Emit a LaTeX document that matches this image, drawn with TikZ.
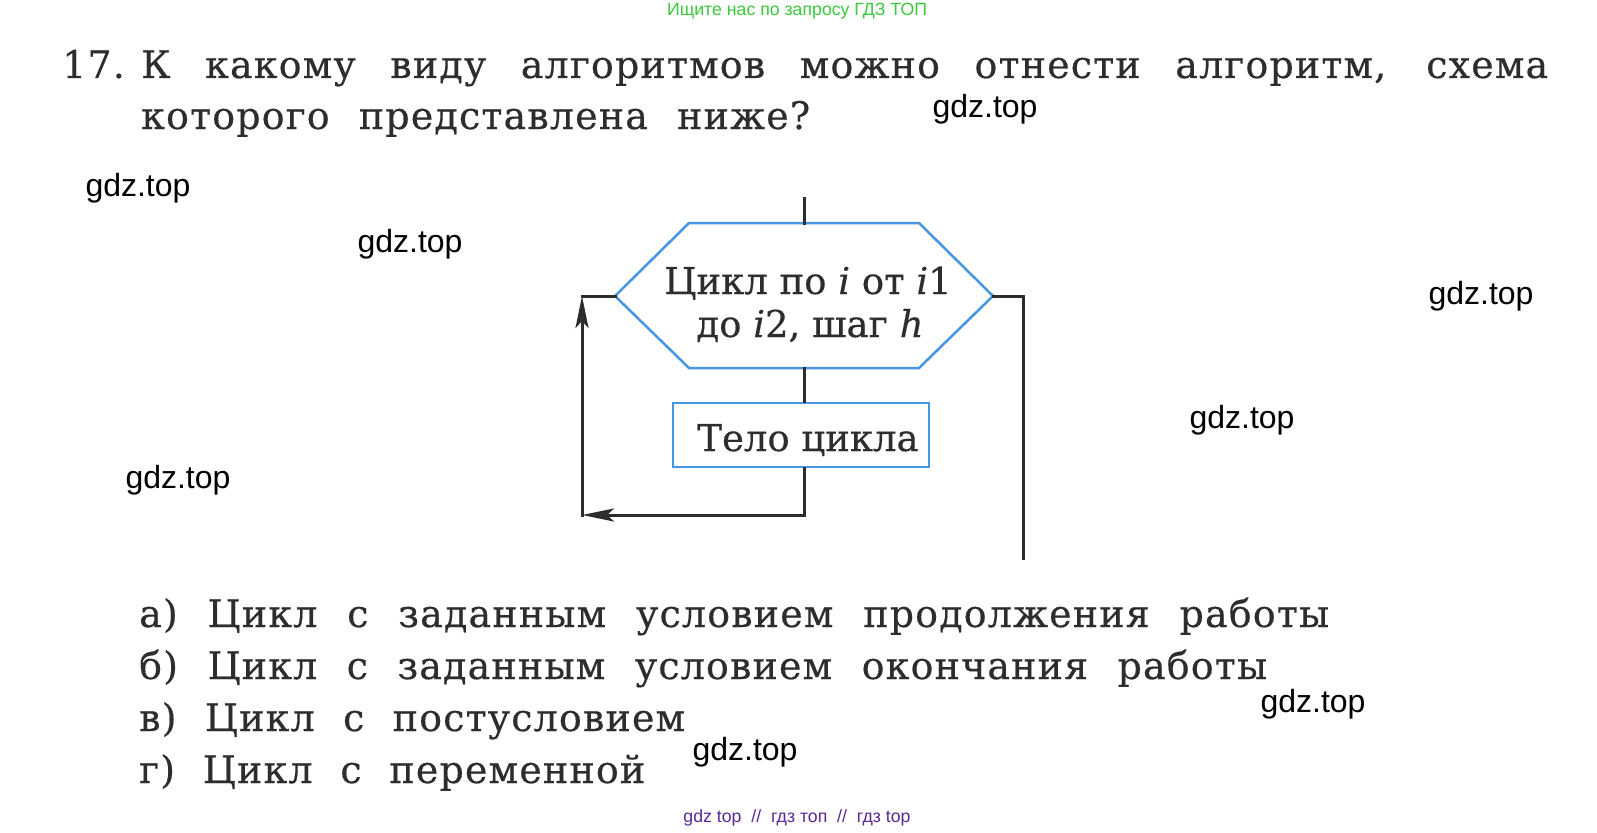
\documentclass[tikz,border=0pt]{standalone}
\usepackage{fontspec}
\setmainfont[FakeBold=0.4]{DejaVu Serif}
\newfontfamily\bookfont[LetterSpace=3,FakeBold=0.4]{DejaVu Serif}
\newfontfamily\wmfont{Liberation Sans}
\usetikzlibrary{arrows.meta}
\definecolor{ink}{RGB}{45,45,45}
\definecolor{flow}{RGB}{70,150,225}
\definecolor{wmgreen}{RGB}{60,200,60}
\definecolor{wmpurple}{RGB}{90,40,150}
\tikzset{
  txt/.style={inner sep=0pt, anchor=base west, text=ink, font=\bookfont\fontsize{38}{44}\selectfont},
  flowtxt/.style={inner sep=0pt, anchor=base, text=ink, font=\fontsize{37}{44}\selectfont},
  wm/.style={inner sep=0pt, anchor=center, font=\wmfont\fontsize{32}{38}\selectfont, text=black},
  wmsmall/.style={inner sep=0pt, anchor=center, font=\wmfont\fontsize{17.7}{21}\selectfont},
  conn/.style={draw=ink, line width=3pt, line cap=rect},
  arrowend/.style={-{Stealth[length=32pt,width=13pt,inset=7pt]}},
  hexline/.style={draw=flow, line width=2.5pt, line join=miter},
  bodybox/.style={draw=flow, line width=2.5pt, minimum width=256pt, minimum height=64pt, inner sep=0pt},
}
\begin{document}
\begin{tikzpicture}[x=1pt,y=-1pt]
\useasboundingbox[fill=white] (0,0) rectangle (1597,832);
% watermarks
\node[wmsmall, text=wmgreen] (wtop) at (797,11) {Ищите нас по запросу ГДЗ ТОП};
\node[wmsmall, text=wmpurple] (wbot) at (797,818) {gdz top \ // \ гдз топ \ // \ гдз top};
\node[wm] (w1) at (985,109) {gdz.top};
\node[wm] (w2) at (138,188) {gdz.top};
\node[wm] (w3) at (410,244) {gdz.top};
\node[wm] (w4) at (1481,296) {gdz.top};
\node[wm] (w5) at (1242,420) {gdz.top};
\node[wm] (w6) at (178,480) {gdz.top};
\node[wm] (w7) at (1313,704) {gdz.top};
\node[wm] (w8) at (745,752) {gdz.top};
% question
\node[txt] (qnum) at (62,78) {17.};
\node[txt] (q1) at (141,78) {\makebox[1407pt][s]{К какому виду алгоритмов можно отнести алгоритм, схема}};
\node[txt] (q2) at (141,129) {\makebox[669pt][s]{которого представлена ниже?}};
% flowchart
\coordinate (hexW) at (615,296);
\coordinate (hexNW) at (689,223);
\coordinate (hexNE) at (919,223);
\coordinate (hexE) at (993,296);
\coordinate (hexSE) at (919,368);
\coordinate (hexSW) at (689,368);
\coordinate (hexN) at (804,223);
\coordinate (hexS) at (804,368);
\draw[hexline] (hexW) -- (hexNW) -- (hexNE) -- (hexE) -- (hexSE) -- (hexSW) -- cycle;
\node[flowtxt] (hexA) at (808,294) {Цикл по {\itshape i} от {\itshape i}1};
\node[flowtxt] (hexB) at (810,337) {до {\itshape i}2, шаг {\itshape h}};
\node[bodybox] (body) at (801,435) {};
\node[flowtxt] (bodytxt) at (808,451) {Тело цикла};
\coordinate (topEnd) at (804,198);
\coordinate (cBL) at (582,515);
\coordinate (cTL) at (582,296);
\coordinate (cTR) at (1023,296);
\coordinate (exitEnd) at (1023,558);
\draw[conn] (topEnd) -- (hexN);
\draw[conn] (hexS) -- (hexS |- body.north);
\draw[conn, arrowend] (body.south -| hexS) |- (cBL);
\draw[conn, arrowend] (cBL) -- (cTL);
\draw[conn] (cTL) -- (hexW);
\draw[conn] (hexE) -- (cTR) -- (exitEnd);
% answers
\node[txt] (a1) at (139,627) {\makebox[1190pt][s]{а) Цикл с заданным условием продолжения работы}};
\node[txt] (a2) at (139,679) {\makebox[1128pt][s]{б) Цикл с заданным условием окончания работы}};
\node[txt] (a3) at (139,731) {\makebox[546pt][s]{в) Цикл с постусловием}};
\node[txt] (a4) at (139,783) {\makebox[506pt][s]{г) Цикл с переменной}};
\end{tikzpicture}
\end{document}
